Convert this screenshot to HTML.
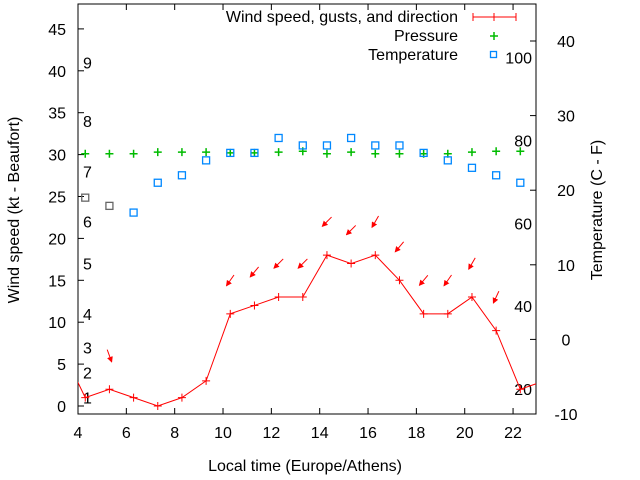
<!DOCTYPE html>
<html><head><meta charset="utf-8"><style>
body{margin:0;background:#fff}
svg{display:block;font-family:"Liberation Sans",sans-serif;font-size:16px}
</style></head><body>
<svg id="c" width="640" height="480" viewBox="0 0 640 480">
<defs><clipPath id="clip"><rect x="78" y="4" width="458" height="410"/></clipPath>
<marker id="ah" markerWidth="6" markerHeight="6" refX="5" refY="3" orient="auto" markerUnits="userSpaceOnUse"><path d="M0,0 L6,3 L0,6 z" fill="#f00"/></marker></defs>
<g id="axes"></g>
<g id="marks" clip-path="url(#clip)"></g>
<text x="305" y="471" text-anchor="middle" fill="#000">Local time (Europe/Athens)</text>
<text transform="translate(19,210) rotate(-90)" text-anchor="middle">Wind speed (kt - Beaufort)</text>
<text transform="translate(602,210) rotate(-90)" text-anchor="middle">Temperature (C - F)</text>
<g>
<text x="458" y="22" text-anchor="end">Wind speed, gusts, and direction</text>
<path d="M473,17 H516 M473,13 V21 M516,13 V21 M494,13 V21" stroke="#f00" fill="none"/>
<text x="458" y="41" text-anchor="end">Pressure</text>
<path d="M494,32 V40 M490,36 H498" stroke="#0b0" stroke-width="1.5"/>
<text x="458" y="60" text-anchor="end">Temperature</text>
<rect x="490.5" y="51.5" width="6" height="6" fill="none" stroke="#08f" stroke-width="1.3"/>
</g>
</svg>
<script>
const hours=[4.3,5.3,6.3,7.3,8.3,9.3,10.3,11.3,12.3,13.3,14.3,15.3,16.3,17.3,18.3,19.3,20.3,21.3,22.3];
const windKt=[1,2,1,0,1,3,11,12,13,13,18,17,18,15,11,11,13,9,2];
const windEdgeHours=[3.3,23.3];
const windEdgeKt=[7,3];
const windDirDeg=[null,-20,null,null,null,null,35,40,45,45,45,45,30,40,40,35,30,25,null];
const pressure=[30.1,30.1,30.1,30.3,30.3,30.3,30.2,30.2,30.3,30.4,30.1,30.3,30.1,30.1,30.1,30.1,30.3,30.4,30.4];
const tempC=[19,17.9,17,21,22,24,25,25,27,26,26,27,26,26,25,24,23,22,21];
const xTicks=[4,6,8,10,12,14,16,18,20,22];
const yTicks=[0,5,10,15,20,25,30,35,40,45];
const y2Ticks=[-10,0,10,20,30,40];
const beaufortKt=[1,4,7,11,17,22,28,34,41];
const beaufortLabels=["1","2","3","4","5","6","7","8","9"];
const fahrenheit=[20,40,60,80,100];

const L=78,R=536,T=4,B=414;
const X=h=>L+(h-4)*24.17;
const Y=v=>406-v*8.38;
const Y2=c=>414-(c+10)*7.46;
const NS="http://www.w3.org/2000/svg";
function mk(tag,attrs,parent,txt){const e=document.createElementNS(NS,tag);for(const k in attrs)e.setAttribute(k,attrs[k]);if(txt!=null)e.textContent=txt;parent.appendChild(e);return e;}
const ax=document.getElementById('axes'),mg=document.getElementById('marks');
let e=mk('rect',{x:L,y:T,width:R-L,height:B-T,fill:'none',stroke:'#000'},ax);


xTicks.forEach(t=>{const x=X(t);
 e=mk('path',{d:`M${x},${B} v-6 M${x},${T} v6`,stroke:'#000'},ax);
 
 
 e=mk('text',{x:x,y:B+24,'text-anchor':'middle'},ax,String(t));
 
 });
yTicks.forEach(t=>{const y=Y(t);
 e=mk('path',{d:`M${L},${y} h6`,stroke:'#000'},ax);
 
 
 e=mk('text',{x:66,y:y+6,'text-anchor':'end'},ax,String(t));
 
 });
y2Ticks.forEach(t=>{const y=Y2(t);
 e=mk('path',{d:`M${R},${y} h-6`,stroke:'#000'},ax);
 
 
 e=mk('text',{x:566,y:y+6,'text-anchor':'middle'},ax,String(t));
 
 });
beaufortKt.forEach((k,i)=>{
 e=mk('text',{x:83,y:Y(k)+6},ax,beaufortLabels[i]);
 
 });
fahrenheit.forEach(f=>{
 e=mk('text',{x:532,y:Y2((f-32)*5/9)+6,'text-anchor':'end'},ax,String(f));
 
 });
hours.forEach((h,i)=>{const x=X(h),y=Y(pressure[i]);
 e=mk('path',{d:`M${x-4},${y}h8M${x},${y-4}v8`,stroke:'#0b0','stroke-width':1.5},mg);
 
 });
hours.forEach((h,i)=>{const x=X(h),y=Y2(tempC[i]);
 e=mk('rect',{x:x-3.5,y:y-3.5,width:7,height:7,fill:'none',stroke:i<2?'#666':'#08f','stroke-width':1.3},mg);
 
 });
const wh=[windEdgeHours[0],...hours,windEdgeHours[1]],wk=[windEdgeKt[0],...windKt,windEdgeKt[1]];
e=mk('polyline',{points:wh.map((h,i)=>X(h)+','+Y(wk[i])).join(' '),fill:'none',stroke:'#f00'},mg);


hours.forEach((h,i)=>{const x=X(h),y=Y(windKt[i]);
 e=mk('path',{d:`M${x-4},${y}h8M${x},${y-4}v8`,stroke:'#f00'},mg);
 
 
 const d=windDirDeg[i];
 if(d!==null){const cx=x,cy=Y(windKt[i]+4),a=d*Math.PI/180,len=13;
  const dx=-Math.sin(a)*len/2,dy=Math.cos(a)*len/2;
  e=mk('line',{x1:cx-dx,y1:cy-dy,x2:cx+dx,y2:cy+dy,stroke:'#f00','marker-end':'url(#ah)'},mg);
  
  }
});
</script>
</body></html>
